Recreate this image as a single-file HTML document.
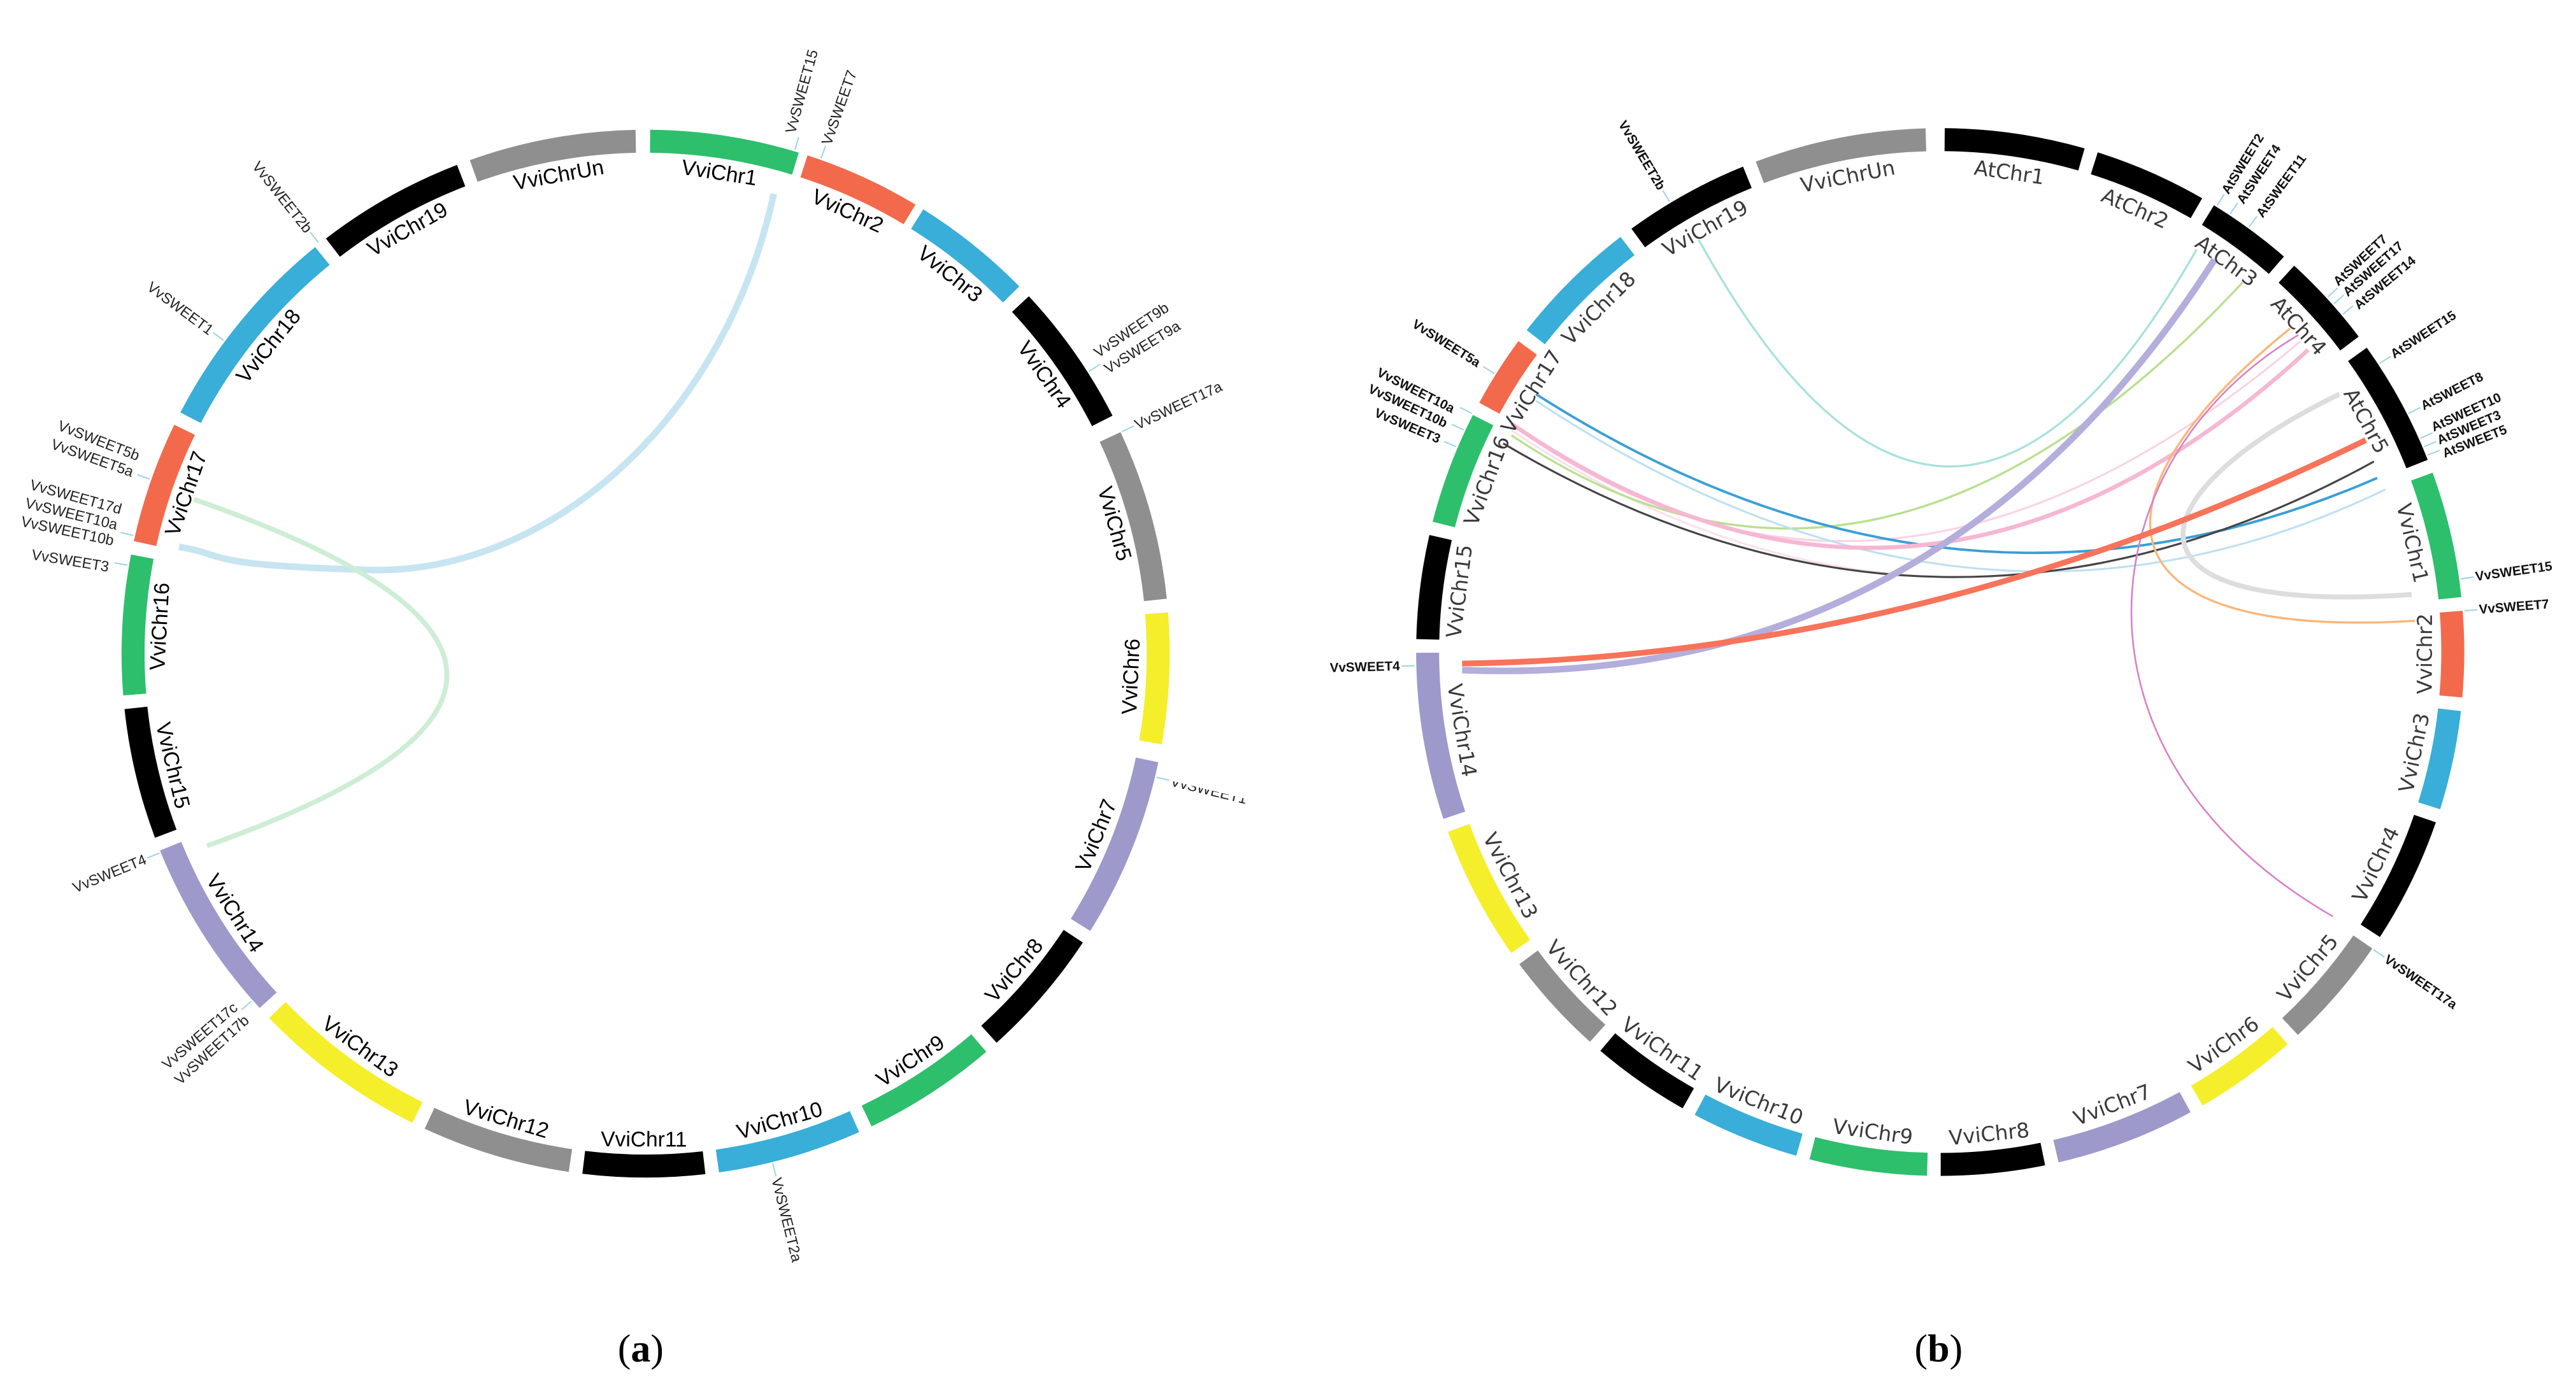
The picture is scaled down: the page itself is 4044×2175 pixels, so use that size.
<!DOCTYPE html>
<html><head><meta charset="utf-8"><style>
html,body{margin:0;padding:0;background:#fff;}
svg{display:block;}
.c{font-family:"Liberation Sans",sans-serif;font-size:13px;fill:#000;}
.cb{font-family:"DejaVu Sans","Liberation Sans",sans-serif;font-size:12.5px;fill:#3a3a3a;}
.g{font-family:"Liberation Sans",sans-serif;font-size:9px;fill:#222;}
.gb{font-family:"Liberation Sans",sans-serif;font-size:8px;font-weight:bold;fill:#111;}
.t{stroke:#9fd3ea;stroke-width:0.8;}
</style></head><body>
<svg width="4044" height="2175" viewBox="0 0 1568 843.3" xmlns="http://www.w3.org/2000/svg">
<defs><clipPath id="cl"><rect x="0" y="0" width="768" height="843"/></clipPath></defs>
<rect width="1568" height="843.3" fill="#fff"/>

<!-- ===== (a) ===== -->
<g transform="translate(393,398) rotate(-90)" fill="none" stroke-width="14">
<circle r="312" pathLength="360" stroke="#2dbf6c" stroke-dasharray="16.5 400" stroke-dashoffset="-0.5"/>
<circle r="312" pathLength="360" stroke="#f26a4b" stroke-dasharray="13 400" stroke-dashoffset="-18"/>
<circle r="312" pathLength="360" stroke="#38aed8" stroke-dasharray="13.5 400" stroke-dashoffset="-32"/>
<circle r="312" pathLength="360" stroke="#000" stroke-dasharray="16 400" stroke-dashoffset="-47"/>
<circle r="312" pathLength="360" stroke="#8f8f8f" stroke-dasharray="19 400" stroke-dashoffset="-65"/>
<circle r="312" pathLength="360" stroke="#f5ee2a" stroke-dasharray="14.5 400" stroke-dashoffset="-85.5"/>
<circle r="312" pathLength="360" stroke="#9e99cb" stroke-dasharray="20 400" stroke-dashoffset="-102"/>
<circle r="312" pathLength="360" stroke="#000" stroke-dasharray="14.5 400" stroke-dashoffset="-123.5"/>
<circle r="312" pathLength="360" stroke="#2dbf6c" stroke-dasharray="15 400" stroke-dashoffset="-139.5"/>
<circle r="312" pathLength="360" stroke="#38aed8" stroke-dasharray="16 400" stroke-dashoffset="-156"/>
<circle r="312" pathLength="360" stroke="#000" stroke-dasharray="13.5 400" stroke-dashoffset="-173.5"/>
<circle r="312" pathLength="360" stroke="#8f8f8f" stroke-dasharray="16.5 400" stroke-dashoffset="-188.5"/>
<circle r="312" pathLength="360" stroke="#f5ee2a" stroke-dasharray="19.5 400" stroke-dashoffset="-206.5"/>
<circle r="312" pathLength="360" stroke="#9e99cb" stroke-dasharray="20.5 400" stroke-dashoffset="-227.5"/>
<circle r="312" pathLength="360" stroke="#000" stroke-dasharray="14.5 400" stroke-dashoffset="-249.5"/>
<circle r="312" pathLength="360" stroke="#2dbf6c" stroke-dasharray="15.5 400" stroke-dashoffset="-265.5"/>
<circle r="312" pathLength="360" stroke="#f26a4b" stroke-dasharray="13.5 400" stroke-dashoffset="-282.5"/>
<circle r="312" pathLength="360" stroke="#38aed8" stroke-dasharray="23.5 400" stroke-dashoffset="-297.5"/>
<circle r="312" pathLength="360" stroke="#000" stroke-dasharray="16.5 400" stroke-dashoffset="-322.5"/>
<circle r="312" pathLength="360" stroke="#8f8f8f" stroke-dasharray="18.5 400" stroke-dashoffset="-340.5"/>
</g>
<!-- links a -->
<path d="M471,118 C440,260 330,350 225,347 S140,338 109,333" fill="none" stroke="#c7e4f1" stroke-width="4"/>
<path d="M118,304 Q422,410 126,515" fill="none" stroke="#cdeed5" stroke-width="3"/>

<g class="c" text-anchor="middle" dominant-baseline="central">
<text transform="translate(393,398) rotate(8.7) translate(0,-296)">VviChr1</text>
<text transform="translate(393,398) rotate(24.5) translate(0,-296)">VviChr2</text>
<text transform="translate(393,398) rotate(38.7) translate(0,-296)">VviChr3</text>
<text transform="translate(393,398) rotate(55) translate(0,-296)">VviChr4</text>
<text transform="translate(393,398) rotate(74.5) translate(0,-296)">VviChr5</text>
<text transform="translate(393,398) rotate(92.7) translate(0,-296) rotate(180)">VviChr6</text>
<text transform="translate(393,398) rotate(112) translate(0,-296) rotate(180)">VviChr7</text>
<text transform="translate(393,398) rotate(130.7) translate(0,-296) rotate(180)">VviChr8</text>
<text transform="translate(393,398) rotate(147) translate(0,-296) rotate(180)">VviChr9</text>
<text transform="translate(393,398) rotate(164) translate(0,-296) rotate(180)">VviChr10</text>
<text transform="translate(393,398) rotate(180.2) translate(0,-296) rotate(180)">VviChr11</text>
<text transform="translate(393,398) rotate(196.7) translate(0,-296) rotate(180)">VviChr12</text>
<text transform="translate(393,398) rotate(216) translate(0,-296) rotate(180)">VviChr13</text>
<text transform="translate(393,398) rotate(237.7) translate(0,-296) rotate(180)">VviChr14</text>
<text transform="translate(393,398) rotate(256.7) translate(0,-296) rotate(180)">VviChr15</text>
<text transform="translate(393,398) rotate(273.2) translate(0,-296)">VviChr16</text>
<text transform="translate(393,398) rotate(289.2) translate(0,-296)">VviChr17</text>
<text transform="translate(393,398) rotate(309.2) translate(0,-296)">VviChr18</text>
<text transform="translate(393,398) rotate(330.7) translate(0,-296)">VviChr19</text>
<text transform="translate(393,398) rotate(349.7) translate(0,-296)">VviChrUn</text>
</g>
<!-- gene ticks a -->
<g class="t" transform="translate(393,398)">
<line transform="rotate(16.5)" y1="-320" y2="-328"/><line transform="rotate(19.5)" y1="-320" y2="-328"/>
<line transform="rotate(57.5)" y1="-320" y2="-328"/><line transform="rotate(65)" y1="-320" y2="-328"/>
<line transform="rotate(103.6)" y1="-320" y2="-328"/><line transform="rotate(166)" y1="-320" y2="-328"/>
<line transform="rotate(228.6)" y1="-320" y2="-328"/><line transform="rotate(247.7)" y1="-320" y2="-328"/>
<line transform="rotate(279.7)" y1="-320" y2="-328"/><line transform="rotate(283)" y1="-320" y2="-328"/>
<line transform="rotate(289.4)" y1="-320" y2="-328"/><line transform="rotate(306.6)" y1="-320" y2="-328"/>
<line transform="rotate(321.5)" y1="-320" y2="-328"/>
</g>
<g class="g" dominant-baseline="central">
<text transform="translate(393,398) rotate(15.5) translate(0,-329) rotate(-90)">VvSWEET15</text>
<text transform="translate(393,398) rotate(19.5) translate(0,-329) rotate(-90)">VvSWEET7</text>
<text transform="translate(393,398) rotate(56.3) translate(0,-329) rotate(-90)">VvSWEET9b</text>
<text transform="translate(393,398) rotate(58.3) translate(0,-329) rotate(-90)">VvSWEET9a</text>
<text transform="translate(393,398) rotate(65) translate(0,-329) rotate(-90)">VvSWEET17a</text>
<text clip-path="url(#cl)" transform="translate(393,398) rotate(103.6) translate(0,-329) rotate(-90)">VvSWEET1</text>
<text transform="translate(393,398) rotate(166) translate(0,-329) rotate(-90)">VvSWEET2a</text>
<g text-anchor="end">
<text transform="translate(393,398) rotate(229.4) translate(0,-329) rotate(90)">VvSWEET17c</text>
<text transform="translate(393,398) rotate(227.6) translate(0,-329) rotate(90)">VvSWEET17b</text>
<text transform="translate(393,398) rotate(247.7) translate(0,-329) rotate(90)">VvSWEET4</text>
<text transform="translate(393,398) rotate(279.2) translate(0,-331) rotate(90)">VvSWEET3</text>
<text transform="translate(393,398) rotate(282) translate(0,-331) rotate(90)">VvSWEET10b</text>
<text transform="translate(393,398) rotate(283.7) translate(0,-331) rotate(90)">VvSWEET10a</text>
<text transform="translate(393,398) rotate(285.4) translate(0,-331) rotate(90)">VvSWEET17d</text>
<text transform="translate(393,398) rotate(289.5) translate(0,-331) rotate(90)">VvSWEET5a</text>
<text transform="translate(393,398) rotate(291.3) translate(0,-331) rotate(90)">VvSWEET5b</text>
<text transform="translate(393,398) rotate(306.6) translate(0,-329) rotate(90)">VvSWEET1</text>
<text transform="translate(393,398) rotate(321.5) translate(0,-329) rotate(90)">VvSWEET2b</text>
</g></g>

<!-- ===== (b) ===== -->
<g transform="translate(1181,397) rotate(-90)" fill="none" stroke-width="14">
<circle r="312" pathLength="360" stroke="#000" stroke-dasharray="15.5 400" stroke-dashoffset="-0.5"/>
<circle r="312" pathLength="360" stroke="#000" stroke-dasharray="12.5 400" stroke-dashoffset="-17.5"/>
<circle r="312" pathLength="360" stroke="#000" stroke-dasharray="9.5 400" stroke-dashoffset="-31.5"/>
<circle r="312" pathLength="360" stroke="#000" stroke-dasharray="10.5 400" stroke-dashoffset="-42.5"/>
<circle r="312" pathLength="360" stroke="#000" stroke-dasharray="14 400" stroke-dashoffset="-54.5"/>
<circle r="312" pathLength="360" stroke="#2dbf6c" stroke-dasharray="14 400" stroke-dashoffset="-70"/>
<circle r="312" pathLength="360" stroke="#f26a4b" stroke-dasharray="9.5 400" stroke-dashoffset="-85.5"/>
<circle r="312" pathLength="360" stroke="#38aed8" stroke-dasharray="11 400" stroke-dashoffset="-96.5"/>
<circle r="312" pathLength="360" stroke="#000" stroke-dasharray="14 400" stroke-dashoffset="-109"/>
<circle r="312" pathLength="360" stroke="#8f8f8f" stroke-dasharray="12.5 400" stroke-dashoffset="-124.5"/>
<circle r="312" pathLength="360" stroke="#f5ee2a" stroke-dasharray="11.5 400" stroke-dashoffset="-138.5"/>
<circle r="312" pathLength="360" stroke="#9e99cb" stroke-dasharray="15.5 400" stroke-dashoffset="-151.5"/>
<circle r="312" pathLength="360" stroke="#000" stroke-dasharray="11.5 400" stroke-dashoffset="-168.5"/>
<circle r="312" pathLength="360" stroke="#2dbf6c" stroke-dasharray="13 400" stroke-dashoffset="-181.5"/>
<circle r="312" pathLength="360" stroke="#38aed8" stroke-dasharray="12 400" stroke-dashoffset="-196"/>
<circle r="312" pathLength="360" stroke="#000" stroke-dasharray="11 400" stroke-dashoffset="-209.5"/>
<circle r="312" pathLength="360" stroke="#8f8f8f" stroke-dasharray="11.5 400" stroke-dashoffset="-222"/>
<circle r="312" pathLength="360" stroke="#f5ee2a" stroke-dasharray="15 400" stroke-dashoffset="-235"/>
<circle r="312" pathLength="360" stroke="#9e99cb" stroke-dasharray="18.5 400" stroke-dashoffset="-251.5"/>
<circle r="312" pathLength="360" stroke="#000" stroke-dasharray="11.5 400" stroke-dashoffset="-271.5"/>
<circle r="312" pathLength="360" stroke="#2dbf6c" stroke-dasharray="12.5 400" stroke-dashoffset="-284.5"/>
<circle r="312" pathLength="360" stroke="#f26a4b" stroke-dasharray="8 400" stroke-dashoffset="-298.5"/>
<circle r="312" pathLength="360" stroke="#38aed8" stroke-dasharray="14.5 400" stroke-dashoffset="-308"/>
<circle r="312" pathLength="360" stroke="#000" stroke-dasharray="14 400" stroke-dashoffset="-324"/>
<circle r="312" pathLength="360" stroke="#8f8f8f" stroke-dasharray="19 400" stroke-dashoffset="-339.5"/>
</g>
<!-- links b -->
<g fill="none">
<path d="M1034,146 Q1185,419 1337,152" stroke="#a8e2dc" stroke-width="1.3"/>
<path d="M920,262 Q1170,429 1440,284" stroke="#fbe0ea" stroke-width="1.2"/>
<path d="M925,262 Q1150,420 1400,208" stroke="#fbd3e3" stroke-width="1.2"/>
<path d="M920,265 Q1140,414 1365,172" stroke="#b9e08f" stroke-width="1.3"/>
<path d="M935,240 Q1190,403 1447,291" stroke="#3a9fd6" stroke-width="1.5"/>
<path d="M935,244 Q1200,420 1452,298" stroke="#bde0f2" stroke-width="1.2"/>
<path d="M920,258 Q1170,429 1405,213" stroke="#f6b7d3" stroke-width="2.5"/>
<path d="M915,270 Q1180,427 1445,281" stroke="#444" stroke-width="1.2"/>
<path d="M1468,362 C1280,375 1300,300 1424,240" stroke="#ddd" stroke-width="3"/>
<path d="M1470,378 C1270,390 1270,300 1394,200" stroke="#f8b77a" stroke-width="1.3"/>
<path d="M1420,558 C1250,460 1270,280 1399,204" stroke="#d880c8" stroke-width="1"/>
<path d="M890,408 Q1180,420 1348,158" stroke="#b3aedc" stroke-width="4"/>
<path d="M890,404 Q1170,400 1440,268" stroke="#f7735a" stroke-width="3.5"/>
</g>
<g class="cb" text-anchor="middle" dominant-baseline="central">
<text transform="translate(1181,397) rotate(8.2) translate(0,-295)">AtChr1</text>
<text transform="translate(1181,397) rotate(23.7) translate(0,-295)">AtChr2</text>
<text transform="translate(1181,397) rotate(36.2) translate(0,-295)">AtChr3</text>
<text transform="translate(1181,397) rotate(47.7) translate(0,-295)">AtChr4</text>
<text transform="translate(1181,397) rotate(61.5) translate(0,-295)">AtChr5</text>
<text transform="translate(1181,397) rotate(77) translate(0,-295)">VviChr1</text>
<text transform="translate(1181,397) rotate(90.2) translate(0,-295) rotate(180)">VviChr2</text>
<text transform="translate(1181,397) rotate(102) translate(0,-295) rotate(180)">VviChr3</text>
<text transform="translate(1181,397) rotate(116) translate(0,-295) rotate(180)">VviChr4</text>
<text transform="translate(1181,397) rotate(130.7) translate(0,-295) rotate(180)">VviChr5</text>
<text transform="translate(1181,397) rotate(144.2) translate(0,-295) rotate(180)">VviChr6</text>
<text transform="translate(1181,397) rotate(159.2) translate(0,-295) rotate(180)">VviChr7</text>
<text transform="translate(1181,397) rotate(174.2) translate(0,-295) rotate(180)">VviChr8</text>
<text transform="translate(1181,397) rotate(188) translate(0,-295) rotate(180)">VviChr9</text>
<text transform="translate(1181,397) rotate(202) translate(0,-295) rotate(180)">VviChr10</text>
<text transform="translate(1181,397) rotate(215) translate(0,-295) rotate(180)">VviChr11</text>
<text transform="translate(1181,397) rotate(227.7) translate(0,-295) rotate(180)">VviChr12</text>
<text transform="translate(1181,397) rotate(242.5) translate(0,-295) rotate(180)">VviChr13</text>
<text transform="translate(1181,397) rotate(260.7) translate(0,-295) rotate(180)">VviChr14</text>
<text transform="translate(1181,397) rotate(277.2) translate(0,-295)">VviChr15</text>
<text transform="translate(1181,397) rotate(290.7) translate(0,-295)">VviChr16</text>
<text transform="translate(1181,397) rotate(302.5) translate(0,-295)">VviChr17</text>
<text transform="translate(1181,397) rotate(315.2) translate(0,-295)">VviChr18</text>
<text transform="translate(1181,397) rotate(331) translate(0,-295)">VviChr19</text>
<text transform="translate(1181,397) rotate(349) translate(0,-295)">VviChrUn</text>
</g>
<g class="t" transform="translate(1181,397)">
<line transform="rotate(31.8)" y1="-320" y2="-328"/><line transform="rotate(33.5)" y1="-320" y2="-328"/><line transform="rotate(36)" y1="-320" y2="-328"/>
<line transform="rotate(47.5)" y1="-320" y2="-328"/><line transform="rotate(48.5)" y1="-320" y2="-328"/><line transform="rotate(50)" y1="-320" y2="-328"/>
<line transform="rotate(56.7)" y1="-320" y2="-328"/><line transform="rotate(63)" y1="-320" y2="-328"/><line transform="rotate(66)" y1="-320" y2="-328"/>
<line transform="rotate(67)" y1="-320" y2="-328"/><line transform="rotate(68)" y1="-320" y2="-328"/>
<line transform="rotate(82)" y1="-320" y2="-328"/><line transform="rotate(85.5)" y1="-320" y2="-328"/><line transform="rotate(124.5)" y1="-320" y2="-328"/>
<line transform="rotate(268.5)" y1="-320" y2="-328"/><line transform="rotate(293)" y1="-320" y2="-328"/><line transform="rotate(295)" y1="-320" y2="-328"/>
<line transform="rotate(297)" y1="-320" y2="-328"/><line transform="rotate(302)" y1="-320" y2="-328"/><line transform="rotate(329)" y1="-320" y2="-328"/>
</g>
<g class="gb" dominant-baseline="central">
<text transform="translate(1181,397) rotate(31.8) translate(0,-329) rotate(-90)">AtSWEET2</text>
<text transform="translate(1181,397) rotate(33.7) translate(0,-329) rotate(-90)">AtSWEET4</text>
<text transform="translate(1181,397) rotate(36.2) translate(0,-329) rotate(-90)">AtSWEET11</text>
<text transform="translate(1181,397) rotate(47) translate(0,-329) rotate(-90)">AtSWEET7</text>
<text transform="translate(1181,397) rotate(48.5) translate(0,-329) rotate(-90)">AtSWEET17</text>
<text transform="translate(1181,397) rotate(50.3) translate(0,-329) rotate(-90)">AtSWEET14</text>
<text transform="translate(1181,397) rotate(56.7) translate(0,-329) rotate(-90)">AtSWEET15</text>
<text transform="translate(1181,397) rotate(63) translate(0,-329) rotate(-90)">AtSWEET8</text>
<text transform="translate(1181,397) rotate(65.5) translate(0,-329) rotate(-90)">AtSWEET10</text>
<text transform="translate(1181,397) rotate(67) translate(0,-329) rotate(-90)">AtSWEET3</text>
<text transform="translate(1181,397) rotate(68.5) translate(0,-329) rotate(-90)">AtSWEET5</text>
<text transform="translate(1181,397) rotate(82) translate(0,-329) rotate(-90)">VvSWEET15</text>
<text transform="translate(1181,397) rotate(85.5) translate(0,-329) rotate(-90)">VvSWEET7</text>
<text transform="translate(1181,397) rotate(124.5) translate(0,-329) rotate(-90)">VvSWEET17a</text>
<g text-anchor="end">
<text transform="translate(1181,397) rotate(268.5) translate(0,-329) rotate(90)">VvSWEET4</text>
<text transform="translate(1181,397) rotate(293) translate(0,-331) rotate(90)">VvSWEET3</text>
<text transform="translate(1181,397) rotate(294.8) translate(0,-331) rotate(90)">VvSWEET10b</text>
<text transform="translate(1181,397) rotate(296.5) translate(0,-331) rotate(90)">VvSWEET10a</text>
<text transform="translate(1181,397) rotate(302) translate(0,-331) rotate(90)">VvSWEET5a</text>
<text transform="translate(1181,397) rotate(329) translate(0,-329) rotate(90)">VvSWEET2b</text>
</g></g>

<text x="390" y="829" text-anchor="middle" font-family="Liberation Serif,serif" font-size="24">(<tspan font-weight="bold">a</tspan>)</text>
<text x="1180" y="829" text-anchor="middle" font-family="Liberation Serif,serif" font-size="24">(<tspan font-weight="bold">b</tspan>)</text>
</svg>
</body></html>
